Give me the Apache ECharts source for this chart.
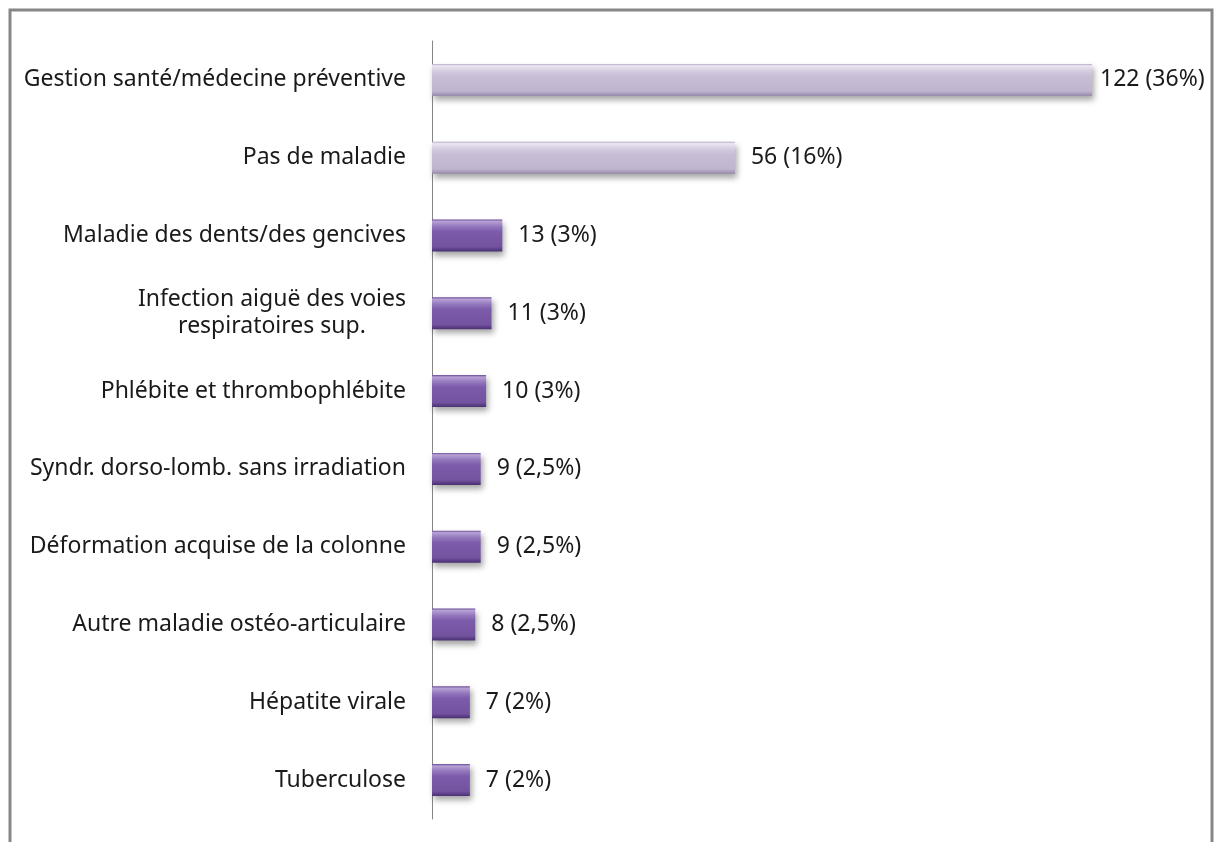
<!DOCTYPE html>
<html><head><meta charset="utf-8">
<script src="https://cdn.jsdelivr.net/npm/echarts@6/dist/echarts.min.js"></script>
<style>html,body{margin:0;padding:0;background:#fff}#c{width:1216px;height:842px}</style>
</head><body><div id="c"></div>
<script>
const categories = [
  "Gestion santé/médecine préventive",
  "Pas de maladie",
  "Maladie des dents/des gencives",
  "Infection aiguë des voies\nrespiratoires sup.",
  "Phlébite et thrombophlébite",
  "Syndr. dorso-lomb. sans irradiation",
  "Déformation acquise de la colonne",
  "Autre maladie ostéo-articulaire",
  "Hépatite virale",
  "Tuberculose"
];
const values = [122, 56, 13, 11, 10, 9, 9, 8, 7, 7];
const percents = ["36%", "16%", "3%", "3%", "3%", "2,5%", "2,5%", "2,5%", "2%", "2%"];
const lightGroup = [true, true, false, false, false, false, false, false, false, false];

const font = "Noto Sans";
const fs = 23;
const lightGrad = new echarts.graphic.LinearGradient(0,0,0,1,[
  {offset:0,color:'#b3a8c5'},{offset:0.06,color:'#ece7f2'},{offset:0.22,color:'#d5cde0'},
  {offset:0.4,color:'#c7bdd5'},{offset:0.85,color:'#c0b5cf'},{offset:0.94,color:'#a89bba'},{offset:1,color:'#968aa8'}]);
const darkGrad = new echarts.graphic.LinearGradient(0,0,0,1,[
  {offset:0,color:'#6a4c96'},{offset:0.06,color:'#b7a1d5'},{offset:0.22,color:'#9377bd'},
  {offset:0.38,color:'#7c5bab'},{offset:0.85,color:'#73529f'},{offset:0.94,color:'#5a3d85'},{offset:1,color:'#4a306f'}]);

const data = values.map((v,i)=>({
  value:v,
  itemStyle:{color: lightGroup[i]?lightGrad:darkGrad, shadowBlur:6, shadowOffsetX:2, shadowOffsetY:4, shadowColor:'rgba(0,0,0,0.35)'},
  label: i===0 ? {distance:8} : undefined
}));

const chart = echarts.init(document.getElementById('c'), null, {renderer:'canvas'});
chart.setOption({
  animation:false,
  backgroundColor:'#fff',
  graphic:[{type:'rect', shape:{x:10,y:10,width:1202,height:860}, style:{fill:'none',stroke:'#868686',lineWidth:3}, silent:true}],
  grid:{left:432, right:124, top:41, bottom:23, containLabel:false},
  xAxis:{type:'value', min:0, max:122, show:false},
  yAxis:{type:'category', data:categories, inverse:true,
    axisLine:{show:true, lineStyle:{color:'#868686', width:1}},
    axisTick:{show:false},
    axisLabel:{margin:26, color:'#1a1a1a', fontFamily:font, fontSize:fs,
      formatter: v => v.split('\n').map(s=>'{a|'+s+'}').join('\n'),
      rich:{a:{fontFamily:font, fontSize:fs, color:'#1a1a1a', align:'center', lineHeight:27}}
    }
  },
  series:[{type:'bar', data:data, barWidth:32,
    label:{show:true, position:'right', distance:16, fontFamily:font, fontSize:fs, color:'#1a1a1a',
      formatter: p => values[p.dataIndex] + ' (' + percents[p.dataIndex] + ')'}
  }]
});
</script></body></html>
